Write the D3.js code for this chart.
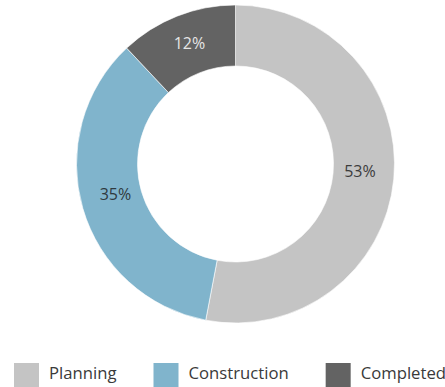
<!DOCTYPE html>
<html>
<head>
<meta charset="utf-8">
<script src="https://cdn.jsdelivr.net/npm/d3@7"></script>
<style>
  html, body { margin: 0; padding: 0; background: #fff; }
  svg { display: block; font-family: "Open Sans", sans-serif; }
</style>
</head>
<body>
<svg id="chart" width="445" height="387"></svg>
<script>
// Project status shares
const categories = ["Planning", "Construction", "Completed"];
const values = [53, 35, 12];
const colors = ["#c4c4c4", "#80b4cc", "#636363"];
const labelColors = ["#3c3c3c", "#2f3a40", "#e6e6e6"];

const svg = d3.select("#chart");
const cx = 235.5, cy = 164, outerR = 159, innerR = 98;

const pie = d3.pie().sort(null).value(d => d.value);
const data = pie(categories.map((c, i) => ({ name: c, value: values[i], i })));

const arc = d3.arc().innerRadius(innerR).outerRadius(outerR);
const labelArc = d3.arc().innerRadius(125).outerRadius(125);

const g = svg.append("g").attr("transform", `translate(${cx},${cy})`);

g.selectAll("path.slice")
  .data(data)
  .join("path")
  .attr("class", "slice")
  .attr("d", arc)
  .attr("fill", d => colors[d.data.i])
  .attr("stroke", "#fff")
  .attr("stroke-width", 0.6);

g.selectAll("text.pct")
  .data(data)
  .join("text")
  .attr("class", "pct")
  .attr("transform", d => `translate(${labelArc.centroid(d)})`)
  .attr("text-anchor", "middle")
  .attr("dy", "0.1em")
  .attr("font-size", 16)
  .attr("fill", d => labelColors[d.data.i])
  .text(d => d.data.value + "%");

// Legend: swatch + label, laid out left to right
const legend = svg.append("g").attr("transform", "translate(14,363)");
let x = 0;
categories.forEach((c, i) => {
  const item = legend.append("g").attr("transform", `translate(${x},0)`);
  item.append("rect")
    .attr("width", 25).attr("height", 25)
    .attr("fill", colors[i]);
  const t = item.append("text")
    .attr("x", 35).attr("y", 16)
    .attr("font-size", 16.7)
    .attr("fill", "#3a3a3a")
    .text(c);
  x += 35 + t.node().getComputedTextLength() + 37;
});
</script>
</body>
</html>
